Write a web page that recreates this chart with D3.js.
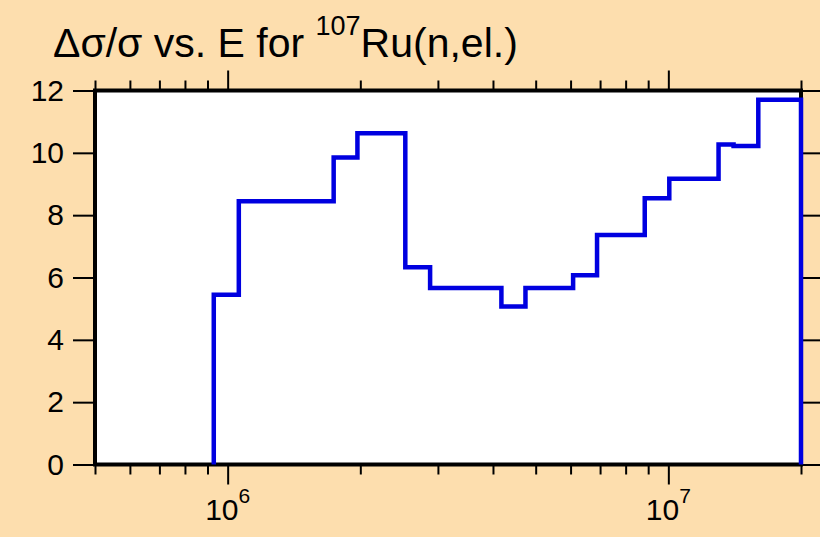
<!DOCTYPE html>
<html>
<head>
<meta charset="utf-8">
<script src="https://cdn.jsdelivr.net/npm/d3@7"></script>
<style>
  html, body { margin: 0; padding: 0; background: #fddeae; }
  svg { display: block; }
  text { font-family: "Liberation Sans", Arial, sans-serif; fill: #000; }
</style>
</head>
<body>
<svg id="chart" width="820" height="537"></svg>
<script>
// Bin edges (energy, eV) and relative uncertainty values (%)
const edges = [9.3e5, 1.06e6, 1.2e6, 1.54e6, 1.74e6, 1.97e6, 2.24e6, 2.53e6, 2.88e6, 3.26e6, 3.68e6,
               4.18e6, 4.74e6, 5.38e6, 6.08e6, 6.89e6, 7.78e6, 8.84e6, 1.005e7, 1.093e7, 1.3e7, 1.406e7, 1.6e7, 2e7];
const values = [5.45, 8.45, 8.45, 8.45, 9.85, 10.63, 10.63, 6.33, 5.66, 5.66, 5.66, 5.07, 5.66, 5.66,
                6.07, 7.36, 7.36, 8.54, 9.17, 9.17, 10.27, 10.22, 11.70];
const yTicks = [0, 2, 4, 6, 8, 10, 12];
const xMajorTicks = [1e6, 1e7];
const xMajorExponents = ["6", "7"];
const xMinorTicks = [5e5, 6e5, 7e5, 8e5, 9e5, 2e6, 3e6, 4e6, 5e6, 6e6, 7e6, 8e6, 9e6, 2e7];
const titleParts = { main: "Δσ/σ vs. E for ", sup: "107", tail: "Ru(n,el.)" };

const svg = d3.select("#chart");
const L = 95, R = 801, T = 90.5, B = 464.5;

const x = d3.scaleLog().domain([5e5, 2e7]).range([L, R]);
const y = d3.scaleLinear().domain([0, 12]).range([B, T]);

// plot background
svg.append("rect").attr("x", L).attr("y", T).attr("width", R - L).attr("height", B - T)
  .attr("fill", "#fff");

// axes
function styleAxis(g) {
  g.select(".domain").remove();
  g.selectAll(".tick line").attr("stroke", "#000").attr("stroke-width", 2);
}
svg.append("g").attr("transform", `translate(0,${B})`)
  .call(d3.axisBottom(x).tickValues(xMinorTicks).tickSize(10).tickFormat(""))
  .call(styleAxis);
svg.append("g").attr("transform", `translate(0,${B})`)
  .call(d3.axisBottom(x).tickValues(xMajorTicks).tickSize(20).tickFormat(""))
  .call(styleAxis);
svg.append("g").attr("transform", `translate(0,${T})`)
  .call(d3.axisTop(x).tickValues(xMinorTicks).tickSize(10).tickFormat(""))
  .call(styleAxis);
svg.append("g").attr("transform", `translate(0,${T})`)
  .call(d3.axisTop(x).tickValues(xMajorTicks).tickSize(20).tickFormat(""))
  .call(styleAxis);

// major x labels 10^n
xMajorTicks.forEach((v, i) => {
  const t = svg.append("text").attr("x", x(v)).attr("y", 520)
    .attr("text-anchor", "middle").attr("font-size", 30);
  t.append("tspan").text("10");
  t.append("tspan").attr("dy", -17).attr("font-size", 21).text(xMajorExponents[i]);
});

const yl = svg.append("g").attr("transform", `translate(${L},0)`)
  .call(d3.axisLeft(y).tickValues(yTicks).tickSize(22).tickPadding(9).tickFormat(d3.format("d")))
  .call(styleAxis);
yl.selectAll(".tick text").attr("font-size", 30)
  .attr("font-family", "Liberation Sans, Arial, sans-serif").attr("fill", "#000");
svg.append("g").attr("transform", `translate(${R},0)`)
  .call(d3.axisRight(y).tickValues(yTicks).tickSize(19).tickFormat(""))
  .call(styleAxis);

// frame
svg.append("rect").attr("x", L).attr("y", T).attr("width", R - L).attr("height", B - T)
  .attr("fill", "none").attr("stroke", "#000").attr("stroke-width", 4);

// step histogram
const pts = [[edges[0], 0]];
values.forEach((v, i) => pts.push([edges[i], v]));
pts.push([edges[edges.length - 1], values[values.length - 1]]);
pts.push([edges[edges.length - 1], 0]);
const line = d3.line().x(d => x(d[0])).y(d => y(d[1])).curve(d3.curveStepAfter);
svg.append("path").attr("d", line(pts)).attr("fill", "none")
  .attr("stroke", "#0000e0").attr("stroke-width", 4.5).attr("stroke-linejoin", "miter")
  .attr("stroke-linecap", "butt");

// title
const title = svg.append("text").attr("x", 53).attr("y", 57).attr("font-size", 41);
title.append("tspan").text(titleParts.main);
title.append("tspan").attr("dy", -22).attr("font-size", 27).text(titleParts.sup);
title.append("tspan").attr("dy", 22).text(titleParts.tail);
</script>
</body>
</html>
